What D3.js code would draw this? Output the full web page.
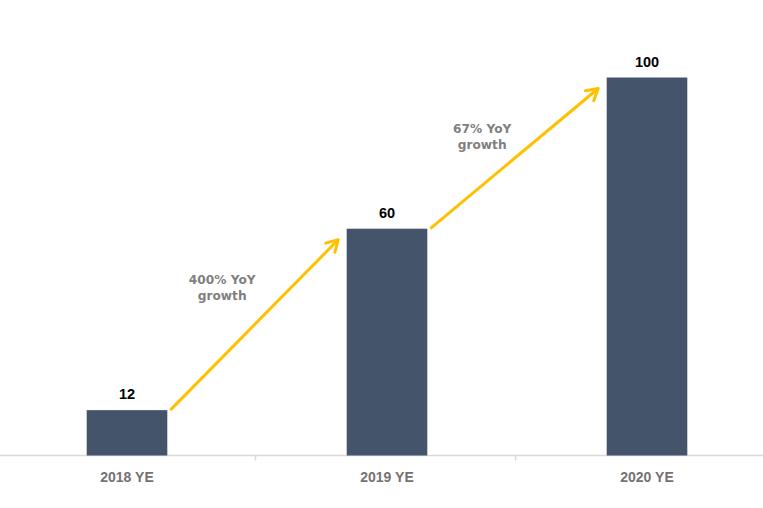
<!DOCTYPE html>
<html>
<head>
<meta charset="utf-8">
<script src="https://cdn.jsdelivr.net/npm/d3@7"></script>
<style>
  body { margin: 0; background: #fff; }
  svg { display: block; }
</style>
</head>
<body>
<div id="chart"></div>
<script>
const categories = ['2018 YE', '2019 YE', '2020 YE']
const values = [12, 60, 100]
const growthLabels = [['400% YoY', 'growth'], ['67% YoY', 'growth']]

const width = 763
const height = 508
const baseline = 455.5

const svg = d3.select('#chart')
  .append('svg')
  .attr('width', width)
  .attr('height', height)

// band scale: ticks fall between categories at 257 and 517
const xScale = d3.scaleBand()
  .domain(categories)
  .range([-3, 777])
  .paddingInner(0.69)
  .paddingOuter(0.345)

const yScale = d3.scaleLinear()
  .domain([0, 100])
  .range([baseline, 77.5])

const bw = xScale.bandwidth()

// axis line and ticks
svg.append('line')
  .attr('x1', 0).attr('x2', width)
  .attr('y1', baseline).attr('y2', baseline)
  .attr('stroke', '#d9d9d9')
  .attr('stroke-width', 1.5)

svg.selectAll('.tick')
  .data(categories.slice(1))
  .enter()
  .append('line')
    .attr('class', 'tick')
    .attr('x1', d => xScale(d) - xScale.step() * xScale.paddingInner() / 2 - 1.5)
    .attr('x2', d => xScale(d) - xScale.step() * xScale.paddingInner() / 2 - 1.5)
    .attr('y1', baseline)
    .attr('y2', baseline + 5)
    .attr('stroke', '#d9d9d9')
    .attr('stroke-width', 1.5)

// bars
svg.selectAll('.bar')
  .data(values)
  .enter()
  .append('rect')
    .attr('class', 'bar')
    .attr('x', (d, i) => xScale(categories[i]))
    .attr('y', d => yScale(d))
    .attr('width', bw)
    .attr('height', d => baseline - yScale(d))
    .attr('fill', '#44546a')

// value labels
svg.selectAll('.value')
  .data(values)
  .enter()
  .append('text')
    .attr('class', 'value')
    .attr('x', (d, i) => xScale(categories[i]) + bw / 2)
    .attr('y', d => yScale(d) - 11)
    .attr('text-anchor', 'middle')
    .attr('font-family', 'Liberation Sans, Arial, sans-serif')
    .attr('font-weight', 'bold')
    .attr('font-size', 14.5)
    .attr('fill', '#000')
    .text(d => d)

// category labels
svg.selectAll('.cat')
  .data(categories)
  .enter()
  .append('text')
    .attr('class', 'cat')
    .attr('x', d => xScale(d) + bw / 2)
    .attr('y', 482)
    .attr('text-anchor', 'middle')
    .attr('font-family', 'Liberation Sans, Arial, sans-serif')
    .attr('font-weight', 'bold')
    .attr('font-size', 14)
    .attr('fill', '#767171')
    .text(d => d)

// growth arrows between consecutive bars
const arrows = growthLabels.map(function(lbl, i) {
  return {
    x1: xScale(categories[i]) + bw + 3,
    y1: yScale(values[i]),
    x2: xScale(categories[i + 1]) - 8.5,
    y2: yScale(values[i + 1]) + 11,
    label: lbl
  }
})

const arrowG = svg.selectAll('.arrow')
  .data(arrows)
  .enter()
  .append('g')
    .attr('class', 'arrow')

arrowG.append('line')
  .attr('x1', d => d.x1).attr('y1', d => d.y1)
  .attr('x2', d => d.x2).attr('y2', d => d.y2)
  .attr('stroke', '#ffc000')
  .attr('stroke-width', 3)

arrowG.append('path')
  .attr('d', function(d) {
    const a = Math.atan2(d.y2 - d.y1, d.x2 - d.x1)
    const len = 13, spread = Math.PI / 6
    const p1 = [d.x2 - len * Math.cos(a - spread), d.y2 - len * Math.sin(a - spread)]
    const p2 = [d.x2 - len * Math.cos(a + spread), d.y2 - len * Math.sin(a + spread)]
    return `M${p1[0]},${p1[1]}L${d.x2},${d.y2}L${p2[0]},${p2[1]}`
  })
  .attr('fill', 'none')
  .attr('stroke', '#ffc000')
  .attr('stroke-width', 3)
  .attr('stroke-linecap', 'round')
  .attr('stroke-linejoin', 'round')

arrowG.append('text')
  .attr('x', d => d.x2 - 116)
  .attr('y', d => d.y2 + 44)
  .attr('text-anchor', 'middle')
  .attr('font-family', 'DejaVu Sans, Verdana, sans-serif')
  .attr('font-weight', 'bold')
  .attr('font-size', 12.2)
  .attr('fill', '#7f7f7f')
  .selectAll('tspan')
  .data(d => d.label)
  .enter()
  .append('tspan')
    .attr('x', function() { return d3.select(this.parentNode).attr('x') })
    .attr('dy', (d, i) => i === 0 ? 0 : 16.5)
    .text(d => d)
</script>
</body>
</html>
